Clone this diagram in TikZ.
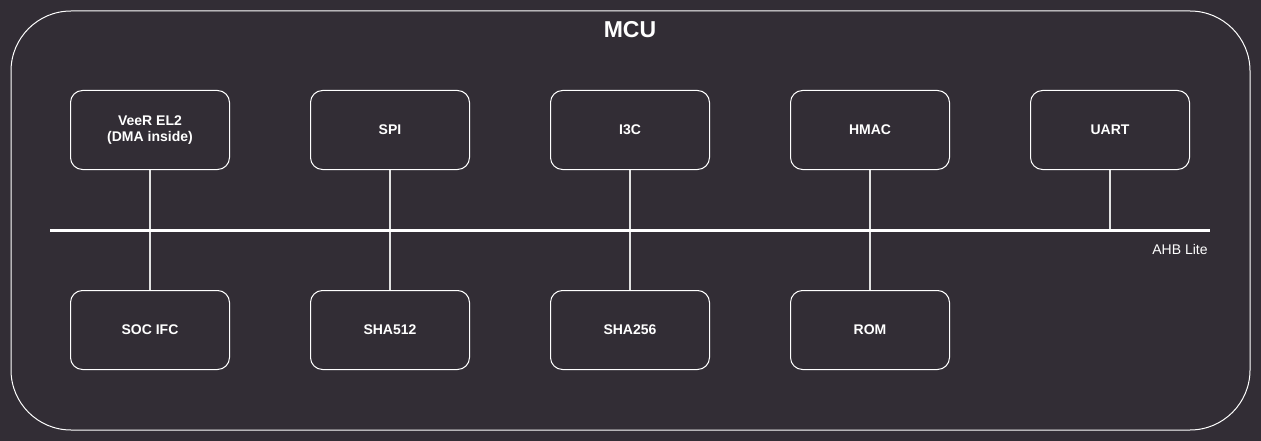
\documentclass[tikz,border=0pt]{standalone}
\usepackage{fontspec}
\setmainfont{Liberation Sans}
\usepackage{xcolor}
\usetikzlibrary{positioning}

\definecolor{bgdark}{RGB}{50,45,53}
\definecolor{linegray}{RGB}{225,225,225}

\tikzset{
    blockbox/.style={draw=white, line width=1pt, rounded corners=12pt,
        minimum width=159pt, minimum height=79pt, inner sep=0pt,
        align=center, text=white, font=\bfseries\fontsize{14}{16}\selectfont},
    busline/.style={draw=white, line width=3pt},
    tapline/.style={draw=linegray, line width=2pt}
}

\begin{document}
\begin{tikzpicture}[x=1pt, y=-1pt]
            \useasboundingbox[fill=bgdark] (0, 0) rectangle (1261, 441);
            \draw[white, line width=1pt, rounded corners=60pt] (11, 11) rectangle (1250, 430); % outer MCU box
            \node[text=white, font=\bfseries\fontsize{23}{26}\selectfont] (title) at (630, 30) {MCU};

            % top row
            \node[blockbox] (veer) at (150, 130) {VeeR EL2\\(DMA inside)};
            \node[blockbox] (spi) at (390, 130) {SPI};
            \node[blockbox] (ithreec) at (630, 130) {I3C};
            \node[blockbox] (hmac) at (870, 130) {HMAC};
            \node[blockbox] (uart) at (1110, 130) {UART};

            % bottom row
            \node[blockbox] (socifc) at (150, 330) {SOC IFC};
            \node[blockbox] (shafive) at (390, 330) {SHA512};
            \node[blockbox] (shatwo) at (630, 330) {SHA256};
            \node[blockbox] (rom) at (870, 330) {ROM};

            % bus
            \coordinate (busL) at (50, 230);
            \coordinate (busR) at (1210, 230);
            \node[text=white, font=\fontsize{14}{16}\selectfont] (ahb) at (1180, 249) {AHB Lite};

            \draw[tapline] (veer.south) -- (socifc.north); % veer-socifc
            \draw[tapline] (spi.south) -- (shafive.north); % spi-sha512
            \draw[tapline] (ithreec.south) -- (shatwo.north); % i3c-sha256
            \draw[tapline] (hmac.south) -- (rom.north); % hmac-rom
            \draw[tapline] (uart.south) -- (uart.south |- busL); % uart-bus
            \draw[busline] (busL) -- (busR); % AHB Lite
        \end{tikzpicture}
\end{document}
